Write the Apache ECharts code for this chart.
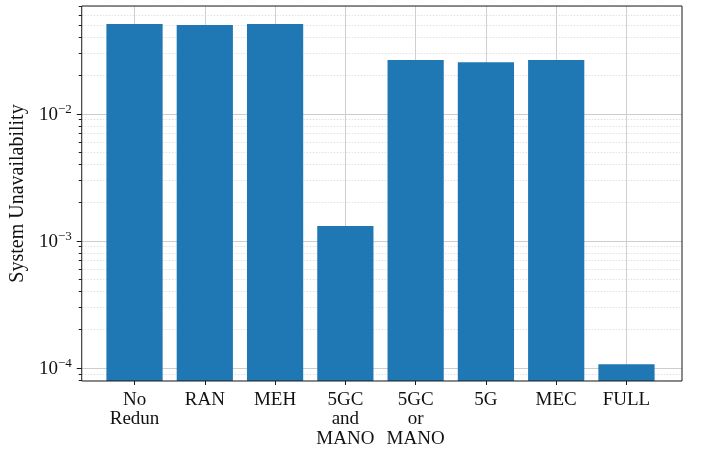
<!DOCTYPE html>
<html><head><meta charset="utf-8">
<script src="https://cdn.jsdelivr.net/npm/echarts@6/dist/echarts.min.js"></script>
<style>html,body{margin:0;padding:0;background:#fff}#c{width:702px;height:449px}</style>
</head><body><div id="c"></div>
<script>
const categories = ['No\nRedun', 'RAN', 'MEH', '5GC\nand\nMANO', '5GC\nor\nMANO', '5G', 'MEC', 'FULL'];
const unavailability = [0.0508, 0.0499, 0.0508, 0.00131, 0.0265, 0.0255, 0.0265, 0.000107];
const majorTicks = [1e-4, 1e-3, 1e-2];
const minorMantissas = [2, 3, 4, 5, 6, 7, 8, 9];
const minorDecades = [1e-5, 1e-4, 1e-3, 1e-2];
const yMin = 7.9e-5, yMax = 0.0705;

const minorTicks = [];
minorDecades.forEach(d => minorMantissas.forEach(m => minorTicks.push(+(m * d).toPrecision(3))));

const FONT = 'Liberation Serif';
const plotLeft = 79, plotRight = 682, plotTop = 6, plotBottom = 381;
const W = 702, H = 449;
// matplotlib-like x range: categories at 0..n-1, bars 0.8 wide, 5% margins
const n = categories.length;
const dataSpan = (n - 1) + 0.8;
const xLo = -0.4 - 0.05 * dataSpan, xHi = (n - 1) + 0.4 + 0.05 * dataSpan;
const pxPerUnit = (plotRight - plotLeft) / (xHi - xLo);
const g1Left = plotLeft + (-0.5 - xLo) * pxPerUnit;
const g1Right = plotLeft + ((n - 0.5) - xLo) * pxPerUnit;

const chart = echarts.init(document.getElementById('c'), null, {renderer: 'canvas'});
const sup = v => {
  const e = Math.round(Math.log10(v));
  return '{b|10}{s|' + (e < 0 ? '\u2212' + (-e) : e) + '}';
};
chart.setOption({
  animation: false,
  backgroundColor: '#fff',
  textStyle: {fontFamily: FONT},
  grid: [
    {left: plotLeft, right: W - plotRight, top: plotTop, bottom: H - plotBottom, show: true,
     borderColor: '#1a1a1a', borderWidth: 1, backgroundColor: 'transparent', z: 3},
    {left: g1Left, right: W - g1Right, top: plotTop, bottom: H - plotBottom}
  ],
  xAxis: [
    {type: 'value', gridIndex: 0, min: 0, max: 1, show: false},
    {type: 'category', gridIndex: 1, data: categories,
     axisLine: {show: false},
     axisTick: {show: true, alignWithLabel: true, inside: false, length: 4, lineStyle: {color: '#1a1a1a', width: 1}},
     splitLine: {show: true, alignWithLabel: true, lineStyle: {color: '#cfcfcf', width: 1}},
     axisLabel: {fontFamily: FONT, fontSize: 19, lineHeight: 19.5, color: '#111', margin: 9, interval: 0}}
  ],
  yAxis: [
    {type: 'log', gridIndex: 0, min: yMin, max: yMax, logBase: 10,
     name: 'System Unavailability', nameLocation: 'middle', nameGap: 47,
     nameTextStyle: {fontFamily: FONT, fontSize: 20, color: '#111'},
     axisLine: {show: false},
     axisTick: {show: true, length: 5, customValues: majorTicks, lineStyle: {color: '#1a1a1a'}},
     axisLabel: {customValues: majorTicks, margin: 10, formatter: sup,
       rich: {b: {fontFamily: FONT, fontSize: 19, color: '#111', verticalAlign: 'bottom', lineHeight: 22},
              s: {fontFamily: FONT, fontSize: 13, color: '#111', verticalAlign: 'top', lineHeight: 13}}},
     splitLine: {show: true, lineStyle: {color: '#cdcdcd', width: 1}}},
    {type: 'log', gridIndex: 0, min: yMin, max: yMax, logBase: 10, position: 'left',
     axisLine: {show: false},
     axisTick: {show: true, length: 3, customValues: minorTicks, lineStyle: {color: '#1a1a1a'}},
     axisLabel: {show: false},
     splitLine: {show: true, lineStyle: {color: '#e0e0e0', width: 1, type: [1.5, 1.5]}}},
    {type: 'log', gridIndex: 1, min: yMin, max: yMax, logBase: 10, startValue: yMin, show: false,
     splitLine: {show: false}}
  ],
  series: [{
    type: 'bar', xAxisIndex: 1, yAxisIndex: 2, data: unavailability,
    barWidth: '80%', itemStyle: {color: '#1f77b4'}, clip: true
  }]
});
</script></body></html>
